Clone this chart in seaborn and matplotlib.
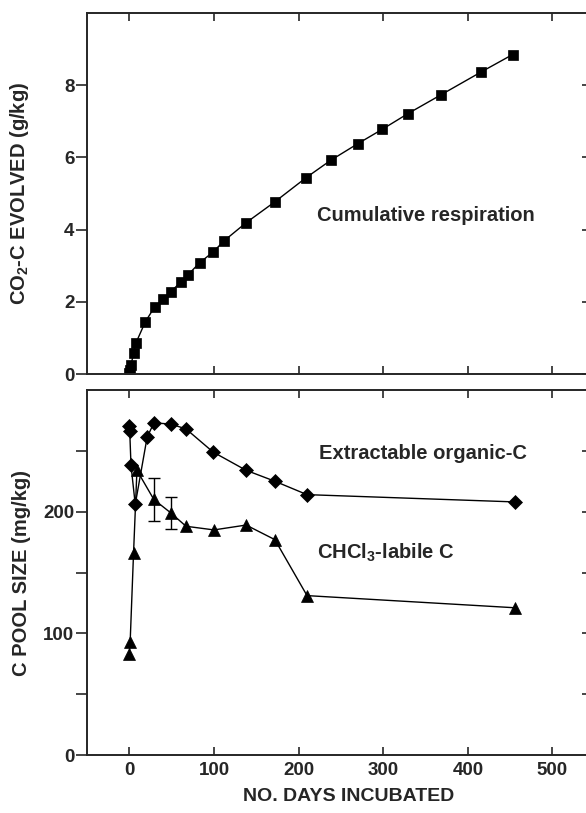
import matplotlib
matplotlib.use("Agg")
import matplotlib.pyplot as plt
import seaborn as sns
import pandas as pd

# ---------------- data ----------------
resp_days = [0, 1, 2, 5, 8, 19, 30, 40, 49, 61, 69, 83, 99, 112, 138, 172,
             209, 238, 270, 299, 329, 368, 416, 453]
resp_co2 = [0.02, 0.11, 0.25, 0.57, 0.87, 1.45, 1.86, 2.07, 2.28, 2.55, 2.74,
            3.08, 3.38, 3.69, 4.19, 4.77, 5.44, 5.92, 6.38, 6.78, 7.21, 7.73,
            8.37, 8.85]

eoc_days = [0, 0.5, 2, 7, 21, 29, 49, 67, 99, 138, 172, 210, 456]
eoc_vals = [270, 266, 238, 206, 261, 273, 272, 268, 249, 234, 225, 214, 208]

clc_days = [0, 1, 5, 9, 29, 49, 67, 100, 138, 172, 210, 456]
clc_vals = [83, 93, 166, 234, 210, 199, 188, 185, 189, 177, 131, 121]

err_days = [29, 49]
err_vals = [210, 199]
err_size = [18, 13]

x_ticks = [0, 100, 200, 300, 400, 500]
top_yticks = [0, 2, 4, 6, 8]
bot_yticks_major = [0, 100, 200]
bot_yticks_minor = [50, 150, 250]

# ---------------- style ----------------
sns.set_style("ticks")
plt.rcParams["font.family"] = ["Liberation Sans", "DejaVu Sans"]
plt.rcParams["font.weight"] = "bold"
plt.rcParams["mathtext.fontset"] = "custom"
plt.rcParams["mathtext.rm"] = "Liberation Sans:bold"
plt.rcParams["mathtext.it"] = "Liberation Sans:bold"
plt.rcParams["mathtext.bf"] = "Liberation Sans:bold"
plt.rcParams["mathtext.default"] = "rm"

W, H = 586, 813
fig = plt.figure(figsize=(W / 100, H / 100), dpi=100)

left = 87 / W
width = (588 - 87) / W
ax1 = fig.add_axes([left, 1 - 374 / H, width, (374 - 13) / H])
ax2 = fig.add_axes([left, 1 - 755 / H, width, (755 - 390) / H])

df_resp = pd.DataFrame({"day": resp_days, "val": resp_co2})
df_eoc = pd.DataFrame({"day": eoc_days, "val": eoc_vals})
df_clc = pd.DataFrame({"day": clc_days, "val": clc_vals})

sns.lineplot(data=df_resp, x="day", y="val", ax=ax1, sort=False, estimator=None,
             color="black", linewidth=1.0, marker="s", markersize=6.5,
             markeredgecolor="black", markeredgewidth=0.5)
sns.lineplot(data=df_eoc, x="day", y="val", ax=ax2, sort=False, estimator=None,
             color="black", linewidth=1.0, marker="D", markersize=7,
             markeredgecolor="black", markeredgewidth=0.5)
sns.lineplot(data=df_clc, x="day", y="val", ax=ax2, sort=False, estimator=None,
             color="black", linewidth=1.0, marker="^", markersize=9,
             markeredgecolor="black", markeredgewidth=0.5)
ax2.errorbar(err_days, err_vals, yerr=err_size, fmt="none", ecolor="black",
             elinewidth=1.0, capsize=4, capthick=1.0)

for ax in (ax1, ax2):
    ax.set_xlim(-50, 542)
    ax.set_xticks(x_ticks)
    ax.tick_params(axis="x", direction="in", top=True, bottom=True,
                   length=6, width=1.2, labelsize=13.5, pad=5)
    ax.tick_params(axis="y", direction="out", left=True, right=False,
                   length=8, width=1.2, labelsize=13.5, pad=1)
    ax.tick_params(axis="y", which="minor", direction="out", length=8, width=1.2)
    for s in ax.spines.values():
        s.set_linewidth(1.4)
        s.set_visible(True)
    ax.set_xlabel("")
    ax.set_ylabel("")

ax1.set_ylim(0, 10)
ax1.set_yticks(top_yticks)
ax1.tick_params(axis="x", labelbottom=False)
sec1 = ax1.secondary_yaxis("right")
sec1.set_yticks(top_yticks)
sec1.tick_params(direction="in", length=4, width=1.2, labelright=False)

ax2.set_ylim(0, 300)
ax2.set_yticks(bot_yticks_major)
ax2.set_yticks(bot_yticks_minor, minor=True)
sec2 = ax2.secondary_yaxis("right")
sec2.set_yticks([50, 100, 150, 200, 250])
sec2.tick_params(direction="in", length=4, width=1.2, labelright=False)

ax1.set_ylabel("CO$_2$-C EVOLVED (g/kg)", fontsize=14.5, fontweight="bold")
ax1.yaxis.set_label_coords((31 - 87) / (588 - 87), 0.5)
ax2.set_ylabel("C POOL SIZE (mg/kg)", fontsize=14.5, fontweight="bold")
ax2.yaxis.set_label_coords((31 - 87) / (588 - 87), 0.5)
ax2.set_xlabel("NO. DAYS INCUBATED", fontsize=14, fontweight="bold")
ax2.xaxis.set_label_coords((349 - 87) / (588 - 87), (755 - 788) / (755 - 390))

ax1.text(222, 4.4, "Cumulative respiration", fontsize=14.5, fontweight="bold",
         va="center", ha="left")
ax2.text(224, 248, "Extractable organic-C", fontsize=14.5, fontweight="bold",
         va="center", ha="left")
ax2.text(222, 166, "CHCl$_3$-labile C", fontsize=14.5, fontweight="bold",
         va="center", ha="left")

fig.savefig("out.png", dpi=100)
